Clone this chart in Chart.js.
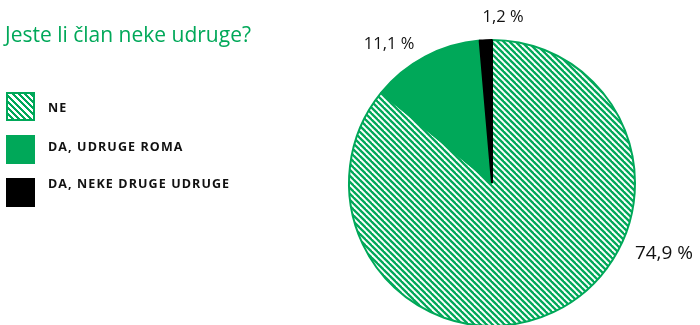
<!DOCTYPE html>
<html>
<head>
<meta charset="utf-8">
<script src="https://cdn.jsdelivr.net/npm/chart.js@4/dist/chart.umd.min.js"></script>
<style>
  body { margin: 0; background: #fff; font-family: "Open Sans", sans-serif; }
  #wrap { position: relative; width: 700px; height: 325px; overflow: hidden; }
  #wrap canvas { position: absolute; left: 0; top: 0; }
  #title { position: absolute; left: 5px; top: 20px; font-size: 21px; color: #00a859; white-space: nowrap; }
  .item { position: absolute; left: 6px; height: 29px; }
  .box { position: absolute; left: 0; top: 0; width: 29px; height: 29px; box-sizing: border-box; }
  .lbl { position: absolute; left: 48px; font-size: 12.5px; font-weight: 700; color: #111; white-space: nowrap; letter-spacing: 1.1px; }
</style>
</head>
<body>
<div id="wrap">
  <canvas id="pieChart" width="700" height="340"></canvas>
  <div id="title">Jeste li član neke udruge?</div>
  <div id="legend"></div>
</div>
<script>
const categories = ['NE', 'DA, UDRUGE ROMA', 'DA, NEKE DRUGE UDRUGE'];
const values = [74.9, 11.1, 1.2];
const valueLabels = ['74,9 %', '11,1 %', '1,2 %'];

const green = '#00a859';

// diagonal hatch for the "NE" slice
function makeHatch() {
    const s = 6;
    const c = document.createElement('canvas');
    c.width = s;
    c.height = s;
    const g = c.getContext('2d');
    g.fillStyle = '#fff';
    g.fillRect(0, 0, s, s);
    g.strokeStyle = green;
    g.lineWidth = 2.3;
    [-s, 0, s].forEach(k => {
        g.beginPath();
        g.moveTo(-2, -2 + k);
        g.lineTo(s + 2, s + 2 + k);
        g.stroke();
    });
    return g.createPattern(c, 'repeat');
}
const hatch = makeHatch();

// legend (html, left side)
const legendTops = [92, 135, 178];
const legendTextTops = [99, 138, 175];
const legendEl = document.getElementById('legend');
categories.forEach((name, i) => {
    const item = document.createElement('div');
    item.className = 'item';
    item.style.top = legendTops[i] + 'px';
    const box = document.createElement('div');
    box.className = 'box';
    if (i === 0) {
        box.style.border = '2px solid ' + green;
        box.style.background = 'repeating-linear-gradient(45deg, #fff 0 2.2px, ' + green + ' 2.2px 4.4px)';
    } else {
        box.style.background = i === 1 ? green : '#000';
    }
    item.appendChild(box);
    legendEl.appendChild(item);
    const lbl = document.createElement('div');
    lbl.className = 'lbl';
    lbl.style.top = legendTextTops[i] + 'px';
    lbl.innerText = name;
    legendEl.appendChild(lbl);
});

// value labels placed around the pie: angle (deg, clockwise from top) and distance from centre
const labelPlace = [
    { angle: 112.4, dist: 186, size: 19 },
    { angle: 323.5, dist: 173, size: 16.5 },
    { angle: 3.8, dist: 166, size: 16.5 },
];

const outsideLabels = {
    id: 'outsideLabels',
    afterDraw(chart) {
        const arc = chart.getDatasetMeta(0).data[0];
        const cx = arc.x, cy = arc.y;
        const c = chart.ctx;
        c.save();
        c.fillStyle = '#111';
        c.textAlign = 'center';
        c.textBaseline = 'middle';
        valueLabels.forEach((t, i) => {
            const p = labelPlace[i];
            const a = p.angle * Math.PI / 180;
            c.font = p.size + 'px "Open Sans", sans-serif';
            c.fillText(t, cx + p.dist * Math.sin(a), cy - p.dist * Math.cos(a));
        });
        c.restore();
    }
};

const ctx = document.getElementById('pieChart').getContext('2d');
const pieChart = new Chart(ctx, {
    type: 'pie',
    data: {
        labels: categories,
        datasets: [{
            data: values,
            backgroundColor: [hatch, green, '#000'],
            borderColor: [green, green, '#000'],
            borderWidth: 2,
        }],
    },
    options: {
        responsive: false,
        animation: false,
        layout: {
            padding: { left: 348, right: 64, top: 39, bottom: 13 },
        },
        plugins: {
            legend: { display: false },
            tooltip: { enabled: false },
        },
    },
    plugins: [outsideLabels],
});
</script>
</body>
</html>
